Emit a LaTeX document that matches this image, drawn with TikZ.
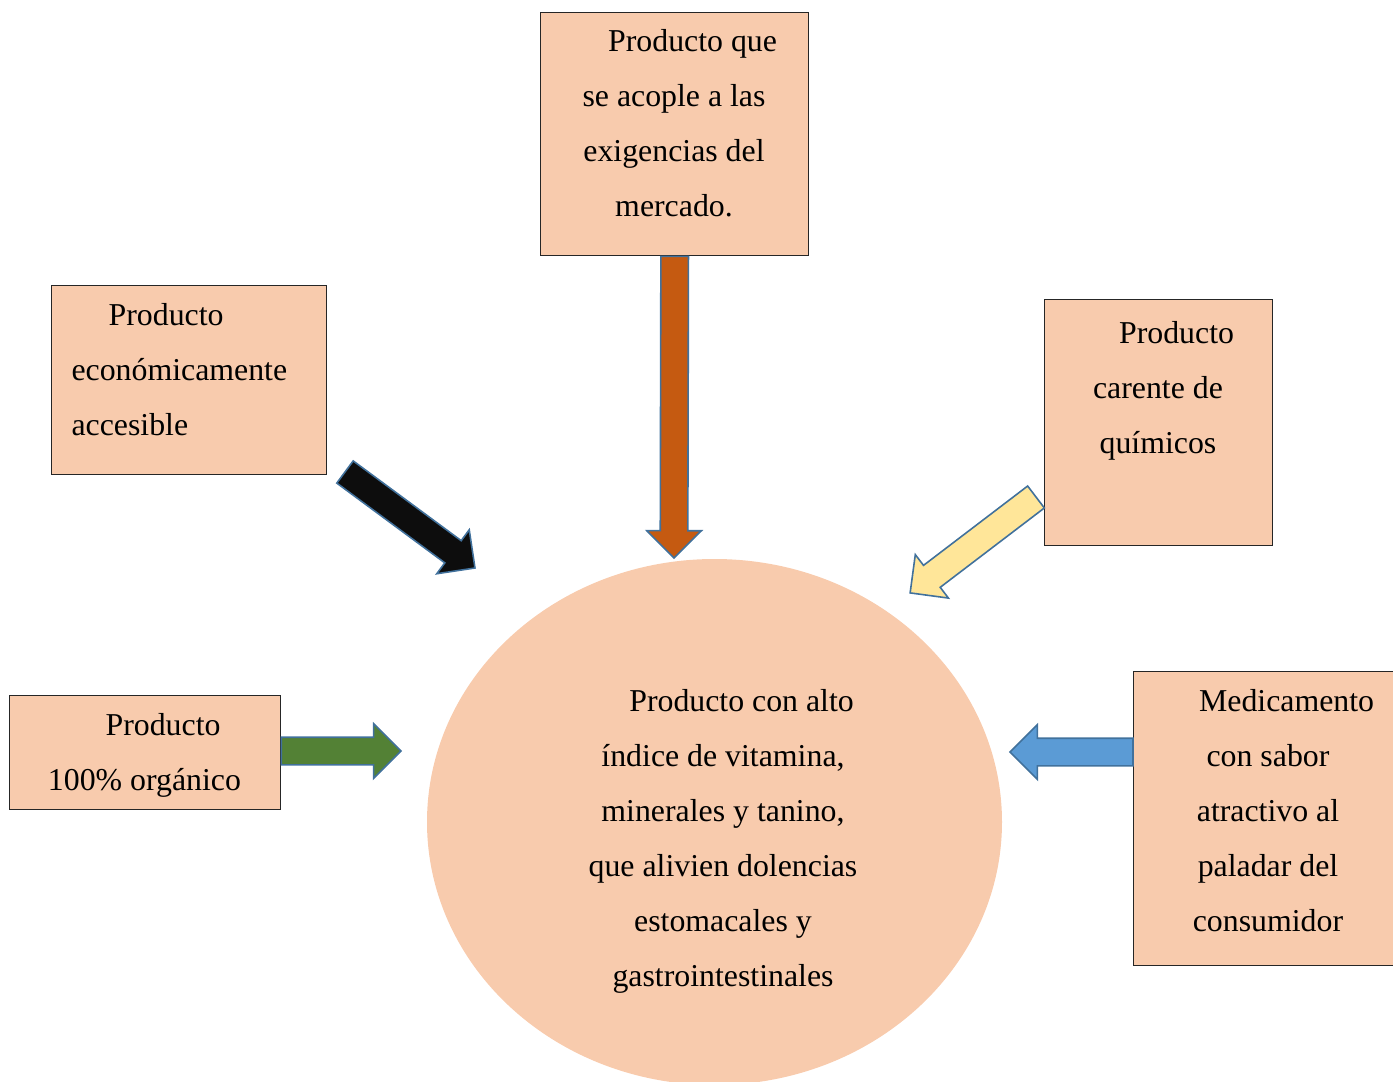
\documentclass[tikz,border=0pt]{standalone}
\usepackage{fontspec}
\setmainfont{Liberation Serif}
\usetikzlibrary{shapes.geometric, shapes.arrows, calc}
\definecolor{piel}{HTML}{F8CBAD}
\definecolor{contorno}{HTML}{41719C}
\definecolor{ladrillo}{HTML}{C55A11}
\definecolor{casinegro}{HTML}{0D0D0D}
\definecolor{crema}{HTML}{FFE699}
\definecolor{musgo}{HTML}{538135}
\definecolor{celeste}{HTML}{5B9BD5}
\newcommand{\pxu}{0.377pt}
% block arrow from tail (#2) to tip (#3)
\newcommand{\flechabloque}[3]{%
  \path let \p1=($(#3)-(#2)$), \n1={veclen(\x1,\y1)}, \n2={atan2(\y1,\x1)} in
    node[flecha, fill=#1, minimum height=\n1, rotate=\n2, anchor=tail] at (#2) {};}

\begin{document}
\begin{tikzpicture}[x=\pxu, y=-\pxu,
  caja/.style={draw=black!85, line width=0.5pt, fill=piel, inner sep=0pt, anchor=north west},
  texto/.style={font=\fontsize{12pt}{20.7pt}\selectfont, align=center, inner sep=0pt},
  flecha/.style={single arrow, draw=contorno, line width=0.6pt, inner xsep=0pt,
    inner ysep=4.9pt, single arrow head extend=5.1pt, minimum width=0pt, outer sep=0pt}]
  \useasboundingbox (0,0) rectangle (1393,1082);
  \clip (0,0) rectangle (1393,1082);

  % central product
  \node[ellipse, fill=piel, minimum width=575*\pxu, minimum height=526*\pxu, inner sep=0pt] (circulo) at (714.5,822) {};
  \node[texto] at (723,841.5) {\hspace*{14pt}Producto con alto\\índice de vitamina,\\minerales y tanino,\\que alivien dolencias\\estomacales y\\gastrointestinales};

  % surrounding boxes
  \node[caja, minimum width=268*\pxu, minimum height=243*\pxu] (mercado) at (540,12) {};
  \node[texto] at (674,123.5) {\hspace*{14pt}Producto que\\se acople a las\\exigencias del\\mercado.};

  \node[caja, minimum width=275*\pxu, minimum height=189*\pxu] (accesible) at (51,285) {};
  \node[texto, align=left, anchor=west] at (71,370) {\hspace*{14pt}Producto\\económicamente\\accesible};

  \node[caja, minimum width=228*\pxu, minimum height=246*\pxu] (quimicos) at (1044,299) {};
  \node[texto] at (1158,390.5) {\hspace*{14pt}Producto\\carente de\\químicos};

  \node[caja, minimum width=271*\pxu, minimum height=114*\pxu] (organico) at (9,695) {};
  \node[texto] at (144.5,755.5) {\hspace*{14pt}Producto\\100\% orgánico};

  \node[caja, minimum width=267*\pxu, minimum height=294*\pxu] (medic) at (1133,671) {};
  \node[texto] at (1268,810.5) {\hspace*{14pt}Medicamento\\con sabor\\atractivo al\\paladar del\\consumidor};

  % arrow ends
  \coordinate (puntaL) at (674,558);
  \coordinate (colaN) at (345,472);
  \coordinate (puntaN) at (475,568);
  \coordinate (colaC) at (1036,497);
  \coordinate (puntaC) at (910,593);
  \coordinate (puntaV) at (401,751);
  \coordinate (puntaA) at (1010,752);

  % arrows
  \flechabloque{ladrillo}{mercado.south}{puntaL}
  \flechabloque{casinegro}{colaN}{puntaN}
  \flechabloque{crema}{colaC}{puntaC}
  \flechabloque{musgo}{organico.east |- puntaV}{puntaV}
  \flechabloque{celeste}{medic.west |- puntaA}{puntaA}
\end{tikzpicture}
\end{document}
